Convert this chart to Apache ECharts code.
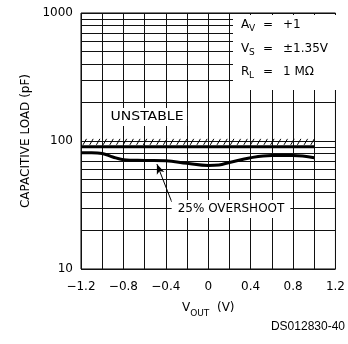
<!DOCTYPE html>
<html>
<head>
<meta charset="utf-8">
<script src="https://cdn.jsdelivr.net/npm/echarts@6/dist/echarts.min.js"></script>
<style>html,body{margin:0;padding:0;background:#fff}#c{width:348px;height:344px}</style>
</head>
<body>
<div id="c"></div>
<script>
// ---- data ----
const curveX = [-1.2, -1.1, -1.0, -0.9, -0.8, -0.6, -0.4, -0.2, 0, 0.1, 0.2, 0.4, 0.6, 0.8, 1.0];
const curveY = [81, 81, 80, 75, 71.5, 70.5, 70, 67, 64.5, 65, 68, 74, 77, 77, 74];
const unstableX = [-1.2, 1.0];
const unstableY = [90, 90];
const minorY = [20, 30, 40, 50, 60, 70, 80, 90, 200, 300, 400, 500, 600, 700, 800, 900];
const yTicks = [10, 100, 1000];
const xLabelStep = 0.4;
const arrowFrom = [-0.344, 33.4];
const arrowTo = [-0.484, 66];

const FONT = 'DejaVu Sans';
const chart = echarts.init(document.getElementById('c'), null, {renderer: 'canvas'});

function xLabel(v) {
  const k = Math.round(v * 10);
  if (k % Math.round(xLabelStep * 10) !== 0) return '';
  if (k === 0) return '0';
  return (k < 0 ? '\u2212' : '') + (Math.abs(k) / 10).toFixed(1);
}

const legendRows = [
  {main: 'A', sub: 'V', val: '+1', y: 25},
  {main: 'V', sub: 'S', val: '\u00b11.35V', y: 48.5},
  {main: 'R', sub: 'L', val: '1 M\u03a9', y: 72}
];
const graphics = [
  {type: 'rect', shape: {x: 233, y: 15, width: 104, height: 75}, style: {fill: '#fff'}, z: 10}
];
legendRows.forEach(r => {
  graphics.push({type: 'text', x: 241, y: r.y, z: 11, style: {text: r.main, font: '12px ' + FONT, fill: '#000', textVerticalAlign: 'middle'}});
  graphics.push({type: 'text', x: 249, y: r.y + 4, z: 11, style: {text: r.sub, font: '9px ' + FONT, fill: '#000', textVerticalAlign: 'middle'}});
  graphics.push({type: 'text', x: 268, y: r.y, z: 11, style: {text: '=', font: '12px ' + FONT, fill: '#000', textAlign: 'center', textVerticalAlign: 'middle'}});
  graphics.push({type: 'text', x: 283, y: r.y, z: 11, style: {text: r.val, font: '12px ' + FONT, fill: '#000', textVerticalAlign: 'middle'}});
});
graphics.push({type: 'text', x: 147, y: 117, z: 11, scaleX: 1.17,
  style: {text: 'UNSTABLE', font: '12px ' + FONT, fill: '#000', textAlign: 'center', textVerticalAlign: 'middle', backgroundColor: '#fff', padding: [3, 3]}});
graphics.push({type: 'text', x: 231, y: 209, z: 11,
  style: {text: '25% OVERSHOOT', font: '12px ' + FONT, fill: '#000', textAlign: 'center', textVerticalAlign: 'middle', backgroundColor: '#fff', padding: [3, 6]}});
graphics.push({type: 'text', x: 345, y: 327, z: 11,
  style: {text: 'DS012830-40', font: '12px "Liberation Sans"', fill: '#000', textAlign: 'right', textVerticalAlign: 'middle'}});

const option = {
  backgroundColor: '#fff',
  animation: false,
  grid: {left: 81, right: 9, top: 13, bottom: 75, show: true, borderColor: '#000', borderWidth: 1},
  xAxis: {
    type: 'value', min: -1.2, max: 1.2, interval: 0.2,
    axisLine: {show: false}, axisTick: {show: false},
    splitLine: {show: true, lineStyle: {color: '#111', width: 1}},
    axisLabel: {formatter: xLabel, fontFamily: FONT, fontSize: 12, color: '#000', margin: 12, interval: 0, showMinLabel: true, showMaxLabel: true},
    name: '{v|V}{s|OUT}{v|  (V)}', nameLocation: 'middle', nameGap: 33,
    nameTextStyle: {rich: {
      v: {fontFamily: FONT, fontSize: 12, color: '#000', lineHeight: 14, verticalAlign: 'top'},
      s: {fontFamily: FONT, fontSize: 9, color: '#000', lineHeight: 10, padding: [7, 0, 0, 0], verticalAlign: 'top'}
    }}
  },
  yAxis: {
    type: 'log', logBase: 10, min: 10, max: 1000,
    axisLine: {show: false}, axisTick: {show: false},
    splitLine: {show: true, lineStyle: {color: '#111', width: 1}},
    axisLabel: {fontFamily: FONT, fontSize: 12, color: '#000', margin: 8,
      formatter: v => (yTicks.indexOf(Math.round(v)) >= 0 ? String(Math.round(v)) : '')},
    name: 'CAPACITIVE LOAD (pF)', nameLocation: 'middle', nameGap: 41,
    nameTextStyle: {fontFamily: FONT, fontSize: 12, color: '#000'}
  },
  graphic: graphics,
  series: [
    {
      type: 'line', data: minorY.map(() => null), silent: true, symbol: 'none',
      markLine: {silent: true, symbol: 'none', label: {show: false}, animation: false,
        lineStyle: {color: '#111', width: 1, type: 'solid'},
        data: minorY.map(v => ({yAxis: v}))}
    },
    {
      type: 'line', data: unstableX.map((x, i) => [x, unstableY[i]]), symbol: 'none',
      lineStyle: {color: '#000', width: 3}, z: 5
    },
    {
      type: 'custom', data: [[unstableX[0], unstableX[1], unstableY[0]]],
      encode: {x: [0, 1], y: 2}, z: 5,
      renderItem: function (params, api) {
        const p0 = api.coord([api.value(0), api.value(2)]);
        const p1 = api.coord([api.value(1), api.value(2)]);
        const children = [];
        for (let x = p0[0] + 2; x < p1[0] - 3; x += 6.7) {
          children.push({type: 'line', shape: {x1: x, y1: p0[1] - 2, x2: x + 3.5, y2: p0[1] - 8},
            style: {stroke: '#000', lineWidth: 1}});
        }
        return {type: 'group', children: children};
      }
    },
    {
      type: 'line', data: curveX.map((x, i) => [x, curveY[i]]), smooth: 0.4, symbol: 'none',
      lineStyle: {color: '#000', width: 3}, z: 5,
      markLine: {silent: true, animation: false, label: {show: false},
        lineStyle: {color: '#000', width: 1, type: 'solid'},
        symbol: ['none', 'arrow'], symbolSize: [6, 10],
        data: [[{coord: arrowFrom}, {coord: arrowTo}]]}
    }
  ]
};
chart.setOption(option);
</script>
</body>
</html>
